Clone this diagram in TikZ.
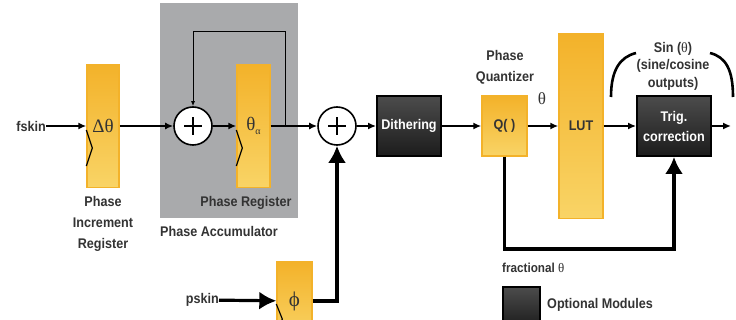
\documentclass[tikz,border=0pt]{standalone}
\usepackage{fontspec}
\setmainfont{Liberation Sans}[FakeStretch=0.9]
\newfontfamily\grk{Liberation Serif}
\usetikzlibrary{arrows.meta}

\definecolor{reggold}{HTML}{F3B22A}
\definecolor{regmid}{HTML}{F9D466}
\definecolor{reglight}{HTML}{FCE7A2}
\definecolor{accgray}{HTML}{A9AAAC}
\definecolor{optgray}{HTML}{4C4C4C}
\definecolor{optdark}{HTML}{1C1C1C}
\definecolor{lbltext}{HTML}{333333}

\tikzset{
	sig/.style={line width=1.6pt, -{Latex[length=8pt,width=7pt]}},
	heavy/.style={line width=3.2pt, -{Latex[length=17pt,width=18pt]}},
	regbox/.style={draw=reggold, line width=1.4pt, top color=reggold, middle color=reglight, bottom color=regmid, inner sep=0pt, text=lbltext, font=\bfseries\fontsize{14}{16}\selectfont},
	optbox/.style={draw=black, line width=1.8pt, top color=optgray, bottom color=optdark, text=white, align=center, inner sep=0pt, font=\bfseries\fontsize{14}{20}\selectfont},
	sumnode/.style={circle, draw=black, line width=1.6pt, fill=white, minimum size=38pt, inner sep=0pt,
		path picture={\draw[line width=2.6pt] (path picture bounding box.center) ++(-9pt,0pt) -- ++(18pt,0pt)
			(path picture bounding box.center) ++(0pt,-9pt) -- ++(0pt,18pt);}},
	lbl/.style={text=lbltext, align=center, inner sep=0pt, font=\bfseries\fontsize{14}{21}\selectfont},
	clk/.style={line width=1.2pt, black}
}

\begin{document}
\begin{tikzpicture}[x=1pt, y=-1pt]

	\useasboundingbox (0,0) rectangle (736,320);
	\fill[white] (0,0) rectangle (736,320);

	% Phase accumulator background
	\node[fill=accgray, minimum width=138pt, minimum height=215pt, inner sep=0pt] (acc) at (229,110.5) {};

	% Draw the blocks
	\node[lbl, anchor=east] (fskin) at (46,126) {fskin};
	\node[regbox, minimum width=32pt, minimum height=123pt] (dtheta) at (103,126) {\grk\mdseries\fontsize{19}{19}\selectfont Δθ};
	\node[sumnode] (add1) at (193,126) {};
	\node[regbox, minimum width=33pt, minimum height=123pt] (theta) at (253.5,126) {\grk\mdseries\fontsize{19}{19}\selectfont θ\raisebox{-0.45ex}{\fontsize{10}{10}\selectfont α}};
	\node[sumnode] (add2) at (337,126) {};
	\node[optbox, minimum width=64pt, minimum height=60pt] (dither) at (409,126) {Dithering};
	\node[regbox, minimum width=45pt, minimum height=60pt] (quant) at (504.5,126) {Q( )};
	\node[regbox, minimum width=44pt, minimum height=185pt] (lut) at (581,126) {LUT};
	\node[optbox, minimum width=74pt, minimum height=60pt] (trig) at (674,126) {Trig.\\correction};
	\coordinate (out) at (731,126);

	\node[lbl, anchor=east] (pskin) at (219,300) {pskin};
	\node[regbox, minimum width=35pt, minimum height=78pt] (phi) at (294.5,301) {\grk\mdseries\fontsize{21}{21}\selectfont ϕ};

	% Clock marks
	\draw[clk] (dtheta.west) ++(0,4) -- ++(6,18) -- ++(-6,18);
	\draw[clk] (theta.west) ++(0,4) -- ++(6,18) -- ++(-6,18);
	\draw[clk] (phi.west) ++(0,3) -- ++(6,15) -- ++(-6,15);

	% Labels
	\node[lbl] (incr) at (103,224) {Phase\\Increment\\Register};
	\node[lbl] (preg) at (246,203) {Phase Register};
	\node[lbl, anchor=west] (pacc) at (160,231) {Phase Accumulator};
	\node[lbl] (pquant) at (505,67) {Phase\\Quantizer};
	\node[text=lbltext, font=\grk\fontsize{17}{17}\selectfont] (thq) at (542,99) {θ};
	\node[lbl, font=\bfseries\fontsize{14}{17.5}\selectfont] (sinlbl) at (673,66) {Sin ({\grk\mdseries θ})\\(sine/cosine\\outputs)};
	\node[lbl, anchor=west, font=\bfseries\fontsize{13}{15}\selectfont] (frac) at (502,268) {fractional {\grk\mdseries θ}};
	\node[optbox, minimum width=37pt, minimum height=40pt] (legbox) at (521.5,307) {};
	\node[lbl, anchor=west] (legtxt) at (547,305) {Optional Modules};

	% Draw the signal path
	\draw[sig] (fskin) -- (dtheta);
	\draw[sig] (dtheta) -- (add1);
	\draw[sig] (add1) -- (theta);
	\draw[sig] (theta) -- (add2);
	\draw[sig] (add2) -- (dither);
	\draw[sig] (dither) -- (quant);
	\draw[sig] (quant) -- (lut);
	\draw[sig] (lut) -- (trig);
	\draw[sig] (trig) -- (out);

	% Accumulator feedback
	\coordinate (tap) at (285,126);
	\coordinate (loop) at (193,32);
	\draw[line width=1pt, -{Latex[length=5pt,width=4pt]}] (tap) |- (loop) -- (add1);

	% Phase offset and fractional part
	\draw[heavy] (pskin) -- (phi);
	\draw[heavy] (phi) -| (add2);
	\coordinate (fracbot) at (504.5,249);
	\draw[heavy] (quant) -- (fracbot) -| (trig);

	% Output brackets
	\draw[line width=2.6pt] (611,97) .. controls (611,70) and (620,57) .. (636,53);
	\draw[line width=2.6pt] (710,53) .. controls (726,57) and (733,70) .. (733,97);

\end{tikzpicture}
\end{document}
